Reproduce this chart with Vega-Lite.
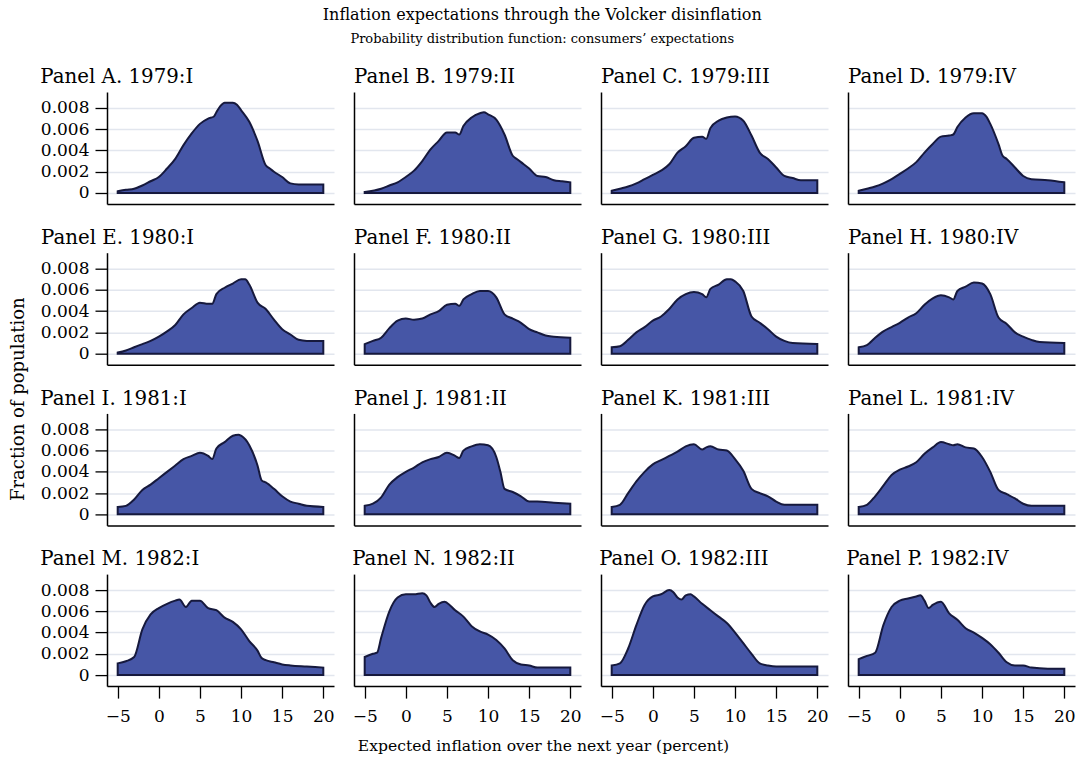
{
"$schema": "https://vega.github.io/schema/vega-lite/v6.json",
"background": "white",
"padding": {"left": 9, "top": 7, "right": 4, "bottom": 5},
"datasets": {"d": [
{"p":"A","x":-5,"y":0.00016},{"p":"A","x":-4,"y":0.0003},{"p":"A","x":-3,"y":0.0004},{"p":"A","x":-2,"y":0.0007},{"p":"A","x":-1,"y":0.0011},{"p":"A","x":0,"y":0.0015},{"p":"A","x":1,"y":0.0023},{"p":"A","x":2,"y":0.0032},{"p":"A","x":3,"y":0.0045},{"p":"A","x":4,"y":0.0056},{"p":"A","x":5,"y":0.0065},{"p":"A","x":6,"y":0.0070},{"p":"A","x":6.7,"y":0.0072},{"p":"A","x":7,"y":0.0076},{"p":"A","x":7.5,"y":0.0082},{"p":"A","x":8,"y":0.0085},{"p":"A","x":9,"y":0.0085},{"p":"A","x":9.5,"y":0.0083},{"p":"A","x":10,"y":0.0078},{"p":"A","x":11,"y":0.0067},{"p":"A","x":12,"y":0.0049},{"p":"A","x":13,"y":0.0026},{"p":"A","x":13.5,"y":0.0023},{"p":"A","x":14,"y":0.0020},{"p":"A","x":15,"y":0.0015},{"p":"A","x":16,"y":0.0009},{"p":"A","x":17,"y":0.0008},{"p":"A","x":18,"y":0.0008},{"p":"A","x":20,"y":0.0008},
{"p":"B","x":-5,"y":0.0001},{"p":"B","x":-3,"y":0.0004},{"p":"B","x":-2,"y":0.0007},{"p":"B","x":-1,"y":0.0010},{"p":"B","x":0,"y":0.0015},{"p":"B","x":1,"y":0.0021},{"p":"B","x":2,"y":0.0030},{"p":"B","x":3,"y":0.0041},{"p":"B","x":4,"y":0.0049},{"p":"B","x":5,"y":0.0057},{"p":"B","x":6,"y":0.0057},{"p":"B","x":6.5,"y":0.0055},{"p":"B","x":7,"y":0.0063},{"p":"B","x":8,"y":0.0071},{"p":"B","x":9,"y":0.0075},{"p":"B","x":9.5,"y":0.0076},{"p":"B","x":10,"y":0.0074},{"p":"B","x":11,"y":0.0069},{"p":"B","x":12,"y":0.0055},{"p":"B","x":13,"y":0.0035},{"p":"B","x":13.5,"y":0.0032},{"p":"B","x":14,"y":0.0029},{"p":"B","x":15,"y":0.0023},{"p":"B","x":16,"y":0.0016},{"p":"B","x":17,"y":0.0015},{"p":"B","x":18,"y":0.0012},{"p":"B","x":19,"y":0.0011},{"p":"B","x":20,"y":0.0010},
{"p":"C","x":-5,"y":0.0002},{"p":"C","x":-4,"y":0.0004},{"p":"C","x":-3,"y":0.0006},{"p":"C","x":-2,"y":0.0009},{"p":"C","x":-1,"y":0.0013},{"p":"C","x":0,"y":0.0017},{"p":"C","x":1,"y":0.0021},{"p":"C","x":2,"y":0.0027},{"p":"C","x":3,"y":0.0038},{"p":"C","x":4,"y":0.0044},{"p":"C","x":5,"y":0.0052},{"p":"C","x":6,"y":0.0053},{"p":"C","x":6.5,"y":0.0051},{"p":"C","x":7,"y":0.0061},{"p":"C","x":8,"y":0.0068},{"p":"C","x":9,"y":0.0071},{"p":"C","x":10,"y":0.0072},{"p":"C","x":11,"y":0.0068},{"p":"C","x":12,"y":0.0054},{"p":"C","x":13,"y":0.0038},{"p":"C","x":14,"y":0.0032},{"p":"C","x":15,"y":0.0024},{"p":"C","x":16,"y":0.0016},{"p":"C","x":17,"y":0.0014},{"p":"C","x":18,"y":0.0012},{"p":"C","x":20,"y":0.0012},
{"p":"D","x":-5,"y":0.0002},{"p":"D","x":-4,"y":0.0004},{"p":"D","x":-3,"y":0.0006},{"p":"D","x":-2,"y":0.0009},{"p":"D","x":-1,"y":0.0013},{"p":"D","x":0,"y":0.0018},{"p":"D","x":1,"y":0.0023},{"p":"D","x":2,"y":0.0029},{"p":"D","x":3,"y":0.0038},{"p":"D","x":4,"y":0.0046},{"p":"D","x":5,"y":0.0053},{"p":"D","x":6,"y":0.0054},{"p":"D","x":6.5,"y":0.0055},{"p":"D","x":7,"y":0.0062},{"p":"D","x":8,"y":0.0071},{"p":"D","x":9,"y":0.0075},{"p":"D","x":10,"y":0.0075},{"p":"D","x":10.5,"y":0.0072},{"p":"D","x":11,"y":0.0065},{"p":"D","x":12,"y":0.0046},{"p":"D","x":12.5,"y":0.0035},{"p":"D","x":13,"y":0.0032},{"p":"D","x":14,"y":0.0024},{"p":"D","x":15,"y":0.0016},{"p":"D","x":16,"y":0.0013},{"p":"D","x":18,"y":0.0012},{"p":"D","x":20,"y":0.0010},
{"p":"E","x":-5,"y":0.0001},{"p":"E","x":-4,"y":0.0003},{"p":"E","x":-3,"y":0.0006},{"p":"E","x":-2,"y":0.0009},{"p":"E","x":-1,"y":0.0012},{"p":"E","x":0,"y":0.0016},{"p":"E","x":1,"y":0.0021},{"p":"E","x":2,"y":0.0027},{"p":"E","x":3,"y":0.0037},{"p":"E","x":4,"y":0.0043},{"p":"E","x":5,"y":0.0048},{"p":"E","x":6,"y":0.0047},{"p":"E","x":6.5,"y":0.0047},{"p":"E","x":7,"y":0.0056},{"p":"E","x":8,"y":0.0062},{"p":"E","x":9,"y":0.0066},{"p":"E","x":10,"y":0.0070},{"p":"E","x":10.5,"y":0.0070},{"p":"E","x":11,"y":0.0065},{"p":"E","x":12,"y":0.0048},{"p":"E","x":13,"y":0.0042},{"p":"E","x":14,"y":0.0032},{"p":"E","x":15,"y":0.0023},{"p":"E","x":16,"y":0.0018},{"p":"E","x":17,"y":0.0013},{"p":"E","x":18,"y":0.0012},{"p":"E","x":20,"y":0.0012},
{"p":"F","x":-5,"y":0.0009},{"p":"F","x":-4,"y":0.0012},{"p":"F","x":-3,"y":0.0015},{"p":"F","x":-2,"y":0.0024},{"p":"F","x":-1,"y":0.0031},{"p":"F","x":0,"y":0.0033},{"p":"F","x":1,"y":0.0032},{"p":"F","x":2,"y":0.0033},{"p":"F","x":3,"y":0.0037},{"p":"F","x":4,"y":0.0040},{"p":"F","x":5,"y":0.0046},{"p":"F","x":6,"y":0.0047},{"p":"F","x":6.5,"y":0.0045},{"p":"F","x":7,"y":0.0051},{"p":"F","x":8,"y":0.0056},{"p":"F","x":9,"y":0.0059},{"p":"F","x":10,"y":0.0059},{"p":"F","x":11,"y":0.0053},{"p":"F","x":12,"y":0.0037},{"p":"F","x":13,"y":0.0033},{"p":"F","x":14,"y":0.0029},{"p":"F","x":15,"y":0.0023},{"p":"F","x":16,"y":0.0020},{"p":"F","x":17,"y":0.0017},{"p":"F","x":18,"y":0.0016},{"p":"F","x":20,"y":0.0015},
{"p":"G","x":-5,"y":0.0006},{"p":"G","x":-4,"y":0.0007},{"p":"G","x":-3,"y":0.0013},{"p":"G","x":-2,"y":0.0020},{"p":"G","x":-1,"y":0.0025},{"p":"G","x":0,"y":0.0031},{"p":"G","x":1,"y":0.0035},{"p":"G","x":2,"y":0.0042},{"p":"G","x":3,"y":0.0051},{"p":"G","x":4,"y":0.0056},{"p":"G","x":5,"y":0.0058},{"p":"G","x":6,"y":0.0056},{"p":"G","x":6.5,"y":0.0053},{"p":"G","x":7,"y":0.0061},{"p":"G","x":8,"y":0.0065},{"p":"G","x":9,"y":0.0070},{"p":"G","x":9.5,"y":0.0070},{"p":"G","x":10,"y":0.0068},{"p":"G","x":11,"y":0.0059},{"p":"G","x":12,"y":0.0035},{"p":"G","x":13,"y":0.0029},{"p":"G","x":14,"y":0.0023},{"p":"G","x":15,"y":0.0016},{"p":"G","x":16,"y":0.0012},{"p":"G","x":17,"y":0.0010},{"p":"G","x":20,"y":0.0009},
{"p":"H","x":-5,"y":0.0006},{"p":"H","x":-4,"y":0.0008},{"p":"H","x":-3,"y":0.0015},{"p":"H","x":-2,"y":0.0021},{"p":"H","x":-1,"y":0.0025},{"p":"H","x":0,"y":0.0029},{"p":"H","x":1,"y":0.0034},{"p":"H","x":2,"y":0.0038},{"p":"H","x":3,"y":0.0046},{"p":"H","x":4,"y":0.0052},{"p":"H","x":5,"y":0.0055},{"p":"H","x":6,"y":0.0053},{"p":"H","x":6.5,"y":0.0051},{"p":"H","x":7,"y":0.0059},{"p":"H","x":8,"y":0.0063},{"p":"H","x":9,"y":0.0067},{"p":"H","x":10,"y":0.0066},{"p":"H","x":11,"y":0.0056},{"p":"H","x":12,"y":0.0034},{"p":"H","x":13,"y":0.0028},{"p":"H","x":14,"y":0.0020},{"p":"H","x":15,"y":0.0016},{"p":"H","x":16,"y":0.0013},{"p":"H","x":17,"y":0.0011},{"p":"H","x":20,"y":0.0010},
{"p":"I","x":-5,"y":0.0007},{"p":"I","x":-4,"y":0.0008},{"p":"I","x":-3,"y":0.0014},{"p":"I","x":-2,"y":0.0023},{"p":"I","x":-1,"y":0.0028},{"p":"I","x":0,"y":0.0034},{"p":"I","x":1,"y":0.0040},{"p":"I","x":2,"y":0.0046},{"p":"I","x":3,"y":0.0052},{"p":"I","x":4,"y":0.0055},{"p":"I","x":5,"y":0.0058},{"p":"I","x":6,"y":0.0055},{"p":"I","x":6.5,"y":0.0052},{"p":"I","x":7,"y":0.0062},{"p":"I","x":8,"y":0.0068},{"p":"I","x":9,"y":0.0074},{"p":"I","x":9.7,"y":0.0075},{"p":"I","x":10,"y":0.0074},{"p":"I","x":11,"y":0.0065},{"p":"I","x":12,"y":0.0046},{"p":"I","x":12.5,"y":0.0032},{"p":"I","x":13,"y":0.0030},{"p":"I","x":14,"y":0.0024},{"p":"I","x":15,"y":0.0017},{"p":"I","x":16,"y":0.0012},{"p":"I","x":17,"y":0.0010},{"p":"I","x":18,"y":0.0008},{"p":"I","x":20,"y":0.0007},
{"p":"J","x":-5,"y":0.0008},{"p":"J","x":-4,"y":0.0010},{"p":"J","x":-3,"y":0.0016},{"p":"J","x":-2,"y":0.0028},{"p":"J","x":-1,"y":0.0035},{"p":"J","x":0,"y":0.0040},{"p":"J","x":1,"y":0.0044},{"p":"J","x":2,"y":0.0049},{"p":"J","x":3,"y":0.0052},{"p":"J","x":4,"y":0.0054},{"p":"J","x":5,"y":0.0058},{"p":"J","x":6,"y":0.0055},{"p":"J","x":6.5,"y":0.0053},{"p":"J","x":7,"y":0.0060},{"p":"J","x":8,"y":0.0064},{"p":"J","x":9,"y":0.0066},{"p":"J","x":10,"y":0.0065},{"p":"J","x":11,"y":0.0054},{"p":"J","x":11.5,"y":0.0040},{"p":"J","x":12,"y":0.0024},{"p":"J","x":13,"y":0.0021},{"p":"J","x":14,"y":0.0017},{"p":"J","x":15,"y":0.0012},{"p":"J","x":16,"y":0.0012},{"p":"J","x":18,"y":0.0011},{"p":"J","x":20,"y":0.0010},
{"p":"K","x":-5,"y":0.0007},{"p":"K","x":-4,"y":0.0009},{"p":"K","x":-3,"y":0.0020},{"p":"K","x":-2,"y":0.0031},{"p":"K","x":-1,"y":0.0040},{"p":"K","x":0,"y":0.0047},{"p":"K","x":1,"y":0.0051},{"p":"K","x":2,"y":0.0055},{"p":"K","x":3,"y":0.0059},{"p":"K","x":4,"y":0.0064},{"p":"K","x":5,"y":0.0066},{"p":"K","x":6,"y":0.0061},{"p":"K","x":6.5,"y":0.0063},{"p":"K","x":7,"y":0.0064},{"p":"K","x":8,"y":0.0061},{"p":"K","x":9,"y":0.0060},{"p":"K","x":10,"y":0.0052},{"p":"K","x":11,"y":0.0041},{"p":"K","x":12,"y":0.0024},{"p":"K","x":13,"y":0.0020},{"p":"K","x":14,"y":0.0017},{"p":"K","x":15,"y":0.0012},{"p":"K","x":16,"y":0.0009},{"p":"K","x":18,"y":0.0009},{"p":"K","x":20,"y":0.0009},
{"p":"L","x":-5,"y":0.0007},{"p":"L","x":-4,"y":0.0009},{"p":"L","x":-3,"y":0.0017},{"p":"L","x":-2,"y":0.0027},{"p":"L","x":-1,"y":0.0037},{"p":"L","x":0,"y":0.0042},{"p":"L","x":1,"y":0.0045},{"p":"L","x":2,"y":0.0049},{"p":"L","x":3,"y":0.0057},{"p":"L","x":4,"y":0.0063},{"p":"L","x":5,"y":0.0068},{"p":"L","x":6,"y":0.0066},{"p":"L","x":6.5,"y":0.0065},{"p":"L","x":7,"y":0.0066},{"p":"L","x":8,"y":0.0063},{"p":"L","x":9,"y":0.0062},{"p":"L","x":10,"y":0.0054},{"p":"L","x":11,"y":0.0040},{"p":"L","x":12,"y":0.0023},{"p":"L","x":13,"y":0.0019},{"p":"L","x":14,"y":0.0015},{"p":"L","x":15,"y":0.0010},{"p":"L","x":16,"y":0.0008},{"p":"L","x":18,"y":0.0008},{"p":"L","x":20,"y":0.0008},
{"p":"M","x":-5,"y":0.0011},{"p":"M","x":-4,"y":0.0013},{"p":"M","x":-3,"y":0.0017},{"p":"M","x":-2,"y":0.0043},{"p":"M","x":-1,"y":0.0057},{"p":"M","x":0,"y":0.0063},{"p":"M","x":1,"y":0.0067},{"p":"M","x":2,"y":0.0070},{"p":"M","x":2.5,"y":0.0071},{"p":"M","x":3.3,"y":0.0064},{"p":"M","x":4,"y":0.0070},{"p":"M","x":5,"y":0.0070},{"p":"M","x":6,"y":0.0063},{"p":"M","x":7,"y":0.0061},{"p":"M","x":8,"y":0.0054},{"p":"M","x":9,"y":0.0050},{"p":"M","x":10,"y":0.0043},{"p":"M","x":11,"y":0.0032},{"p":"M","x":12,"y":0.0023},{"p":"M","x":12.5,"y":0.0016},{"p":"M","x":13,"y":0.0014},{"p":"M","x":14,"y":0.0012},{"p":"M","x":15,"y":0.0010},{"p":"M","x":16,"y":0.0009},{"p":"M","x":18,"y":0.0008},{"p":"M","x":20,"y":0.0007},
{"p":"N","x":-5,"y":0.0017},{"p":"N","x":-4,"y":0.0020},{"p":"N","x":-3.5,"y":0.0021},{"p":"N","x":-3,"y":0.0035},{"p":"N","x":-2,"y":0.0060},{"p":"N","x":-1,"y":0.0073},{"p":"N","x":0,"y":0.0076},{"p":"N","x":1,"y":0.0076},{"p":"N","x":2,"y":0.0077},{"p":"N","x":2.5,"y":0.0075},{"p":"N","x":3,"y":0.0068},{"p":"N","x":3.5,"y":0.0064},{"p":"N","x":4,"y":0.0067},{"p":"N","x":4.7,"y":0.0069},{"p":"N","x":5,"y":0.0068},{"p":"N","x":6,"y":0.0061},{"p":"N","x":7,"y":0.0055},{"p":"N","x":8,"y":0.0046},{"p":"N","x":9,"y":0.0041},{"p":"N","x":10,"y":0.0038},{"p":"N","x":11,"y":0.0033},{"p":"N","x":12,"y":0.0025},{"p":"N","x":13,"y":0.0014},{"p":"N","x":14,"y":0.0010},{"p":"N","x":15,"y":0.0009},{"p":"N","x":16,"y":0.0007},{"p":"N","x":20,"y":0.0007},
{"p":"O","x":-5,"y":0.0009},{"p":"O","x":-4,"y":0.0011},{"p":"O","x":-3,"y":0.0025},{"p":"O","x":-2,"y":0.0047},{"p":"O","x":-1,"y":0.0066},{"p":"O","x":0,"y":0.0074},{"p":"O","x":1,"y":0.0076},{"p":"O","x":2,"y":0.0080},{"p":"O","x":2.5,"y":0.0078},{"p":"O","x":3,"y":0.0073},{"p":"O","x":3.5,"y":0.0071},{"p":"O","x":4,"y":0.0075},{"p":"O","x":4.6,"y":0.0076},{"p":"O","x":5,"y":0.0074},{"p":"O","x":6,"y":0.0067},{"p":"O","x":7,"y":0.0061},{"p":"O","x":8,"y":0.0055},{"p":"O","x":9,"y":0.0049},{"p":"O","x":10,"y":0.0040},{"p":"O","x":11,"y":0.0030},{"p":"O","x":12,"y":0.0020},{"p":"O","x":13,"y":0.0011},{"p":"O","x":14,"y":0.0009},{"p":"O","x":15,"y":0.0008},{"p":"O","x":20,"y":0.0008},
{"p":"P","x":-5,"y":0.0015},{"p":"P","x":-4,"y":0.0018},{"p":"P","x":-3,"y":0.0021},{"p":"P","x":-2,"y":0.0047},{"p":"P","x":-1,"y":0.0064},{"p":"P","x":0,"y":0.0070},{"p":"P","x":1,"y":0.0072},{"p":"P","x":2,"y":0.0074},{"p":"P","x":2.5,"y":0.0075},{"p":"P","x":3,"y":0.0070},{"p":"P","x":3.5,"y":0.0063},{"p":"P","x":4,"y":0.0066},{"p":"P","x":5,"y":0.0069},{"p":"P","x":6,"y":0.0058},{"p":"P","x":7,"y":0.0052},{"p":"P","x":8,"y":0.0044},{"p":"P","x":9,"y":0.0040},{"p":"P","x":10,"y":0.0035},{"p":"P","x":11,"y":0.0029},{"p":"P","x":12,"y":0.0021},{"p":"P","x":13,"y":0.0012},{"p":"P","x":14,"y":0.0009},{"p":"P","x":15,"y":0.0009},{"p":"P","x":16,"y":0.0007},{"p":"P","x":18,"y":0.0006},{"p":"P","x":20,"y":0.0006}
]},
"title": {"text": "Inflation expectations through the Volcker disinflation", "subtitle": "Probability distribution function: consumers’ expectations", "anchor": "middle", "frame": "bounds", "fontSize": 16, "subtitleFontSize": 13, "subtitleFont": "DejaVu Serif", "subtitleColor": "#000", "subtitlePadding": 10, "offset": 21, "baseline": "top"},
"columns": 4,
"bounds": "flush",
"spacing": {"row": 48.7, "column": 20},
"concat": [
{"title": "Panel A. 1979:I", "width": 227, "height": 112, "data": {"name": "d"}, "transform": [{"filter": "datum.p == 'A'"}], "mark": {"type": "area"}, "encoding": {"x": {"field": "x", "type": "quantitative", "scale": {"domain": [-6.3, 21.3], "nice": false, "zero": false}, "axis": {"title": null, "values": [-5, 0, 5, 10, 15, 20], "ticks": false, "labels": false, "grid": false}}, "y": {"field": "y", "type": "quantitative", "scale": {"domain": [-0.00104, 0.0095], "nice": false}, "axis": {"title": null, "values": [0, 0.002, 0.004, 0.006, 0.008], "labelExpr": "datum.value == 0 ? '0' : format(datum.value, '.3f')"}}, "y2": {"datum": 0}}},
{"title": "Panel B. 1979:II", "width": 227, "height": 112, "data": {"name": "d"}, "transform": [{"filter": "datum.p == 'B'"}], "mark": {"type": "area"}, "encoding": {"x": {"field": "x", "type": "quantitative", "scale": {"domain": [-6.3, 21.3], "nice": false, "zero": false}, "axis": {"title": null, "values": [-5, 0, 5, 10, 15, 20], "ticks": false, "labels": false, "grid": false}}, "y": {"field": "y", "type": "quantitative", "scale": {"domain": [-0.00104, 0.0095], "nice": false}, "axis": {"title": null, "values": [0, 0.002, 0.004, 0.006, 0.008], "ticks": false, "labels": false}}, "y2": {"datum": 0}}},
{"title": "Panel C. 1979:III", "width": 227, "height": 112, "data": {"name": "d"}, "transform": [{"filter": "datum.p == 'C'"}], "mark": {"type": "area"}, "encoding": {"x": {"field": "x", "type": "quantitative", "scale": {"domain": [-6.3, 21.3], "nice": false, "zero": false}, "axis": {"title": null, "values": [-5, 0, 5, 10, 15, 20], "ticks": false, "labels": false, "grid": false}}, "y": {"field": "y", "type": "quantitative", "scale": {"domain": [-0.00104, 0.0095], "nice": false}, "axis": {"title": null, "values": [0, 0.002, 0.004, 0.006, 0.008], "ticks": false, "labels": false}}, "y2": {"datum": 0}}},
{"title": "Panel D. 1979:IV", "width": 227, "height": 112, "data": {"name": "d"}, "transform": [{"filter": "datum.p == 'D'"}], "mark": {"type": "area"}, "encoding": {"x": {"field": "x", "type": "quantitative", "scale": {"domain": [-6.3, 21.3], "nice": false, "zero": false}, "axis": {"title": null, "values": [-5, 0, 5, 10, 15, 20], "ticks": false, "labels": false, "grid": false}}, "y": {"field": "y", "type": "quantitative", "scale": {"domain": [-0.00104, 0.0095], "nice": false}, "axis": {"title": null, "values": [0, 0.002, 0.004, 0.006, 0.008], "ticks": false, "labels": false}}, "y2": {"datum": 0}}},
{"title": {"text": "Panel E. 1980:I", "frame": "group", "dx": -66}, "width": 227, "height": 112, "data": {"name": "d"}, "transform": [{"filter": "datum.p == 'E'"}], "mark": {"type": "area"}, "encoding": {"x": {"field": "x", "type": "quantitative", "scale": {"domain": [-6.3, 21.3], "nice": false, "zero": false}, "axis": {"title": null, "values": [-5, 0, 5, 10, 15, 20], "ticks": false, "labels": false, "grid": false}}, "y": {"field": "y", "type": "quantitative", "scale": {"domain": [-0.00104, 0.0095], "nice": false}, "axis": {"title": "Fraction of population", "titleY": 146, "titlePadding": 13, "titleFont": "DejaVu Serif", "titleFontSize": 18, "titleFontWeight": "normal", "titleColor": "#000", "values": [0, 0.002, 0.004, 0.006, 0.008], "labelExpr": "datum.value == 0 ? '0' : format(datum.value, '.3f')"}}, "y2": {"datum": 0}}},
{"title": "Panel F. 1980:II", "width": 227, "height": 112, "data": {"name": "d"}, "transform": [{"filter": "datum.p == 'F'"}], "mark": {"type": "area"}, "encoding": {"x": {"field": "x", "type": "quantitative", "scale": {"domain": [-6.3, 21.3], "nice": false, "zero": false}, "axis": {"title": null, "values": [-5, 0, 5, 10, 15, 20], "ticks": false, "labels": false, "grid": false}}, "y": {"field": "y", "type": "quantitative", "scale": {"domain": [-0.00104, 0.0095], "nice": false}, "axis": {"title": null, "values": [0, 0.002, 0.004, 0.006, 0.008], "ticks": false, "labels": false}}, "y2": {"datum": 0}}},
{"title": "Panel G. 1980:III", "width": 227, "height": 112, "data": {"name": "d"}, "transform": [{"filter": "datum.p == 'G'"}], "mark": {"type": "area"}, "encoding": {"x": {"field": "x", "type": "quantitative", "scale": {"domain": [-6.3, 21.3], "nice": false, "zero": false}, "axis": {"title": null, "values": [-5, 0, 5, 10, 15, 20], "ticks": false, "labels": false, "grid": false}}, "y": {"field": "y", "type": "quantitative", "scale": {"domain": [-0.00104, 0.0095], "nice": false}, "axis": {"title": null, "values": [0, 0.002, 0.004, 0.006, 0.008], "ticks": false, "labels": false}}, "y2": {"datum": 0}}},
{"title": "Panel H. 1980:IV", "width": 227, "height": 112, "data": {"name": "d"}, "transform": [{"filter": "datum.p == 'H'"}], "mark": {"type": "area"}, "encoding": {"x": {"field": "x", "type": "quantitative", "scale": {"domain": [-6.3, 21.3], "nice": false, "zero": false}, "axis": {"title": null, "values": [-5, 0, 5, 10, 15, 20], "ticks": false, "labels": false, "grid": false}}, "y": {"field": "y", "type": "quantitative", "scale": {"domain": [-0.00104, 0.0095], "nice": false}, "axis": {"title": null, "values": [0, 0.002, 0.004, 0.006, 0.008], "ticks": false, "labels": false}}, "y2": {"datum": 0}}},
{"title": "Panel I. 1981:I", "width": 227, "height": 112, "data": {"name": "d"}, "transform": [{"filter": "datum.p == 'I'"}], "mark": {"type": "area"}, "encoding": {"x": {"field": "x", "type": "quantitative", "scale": {"domain": [-6.3, 21.3], "nice": false, "zero": false}, "axis": {"title": null, "values": [-5, 0, 5, 10, 15, 20], "ticks": false, "labels": false, "grid": false}}, "y": {"field": "y", "type": "quantitative", "scale": {"domain": [-0.00104, 0.0095], "nice": false}, "axis": {"title": null, "values": [0, 0.002, 0.004, 0.006, 0.008], "labelExpr": "datum.value == 0 ? '0' : format(datum.value, '.3f')"}}, "y2": {"datum": 0}}},
{"title": "Panel J. 1981:II", "width": 227, "height": 112, "data": {"name": "d"}, "transform": [{"filter": "datum.p == 'J'"}], "mark": {"type": "area"}, "encoding": {"x": {"field": "x", "type": "quantitative", "scale": {"domain": [-6.3, 21.3], "nice": false, "zero": false}, "axis": {"title": null, "values": [-5, 0, 5, 10, 15, 20], "ticks": false, "labels": false, "grid": false}}, "y": {"field": "y", "type": "quantitative", "scale": {"domain": [-0.00104, 0.0095], "nice": false}, "axis": {"title": null, "values": [0, 0.002, 0.004, 0.006, 0.008], "ticks": false, "labels": false}}, "y2": {"datum": 0}}},
{"title": "Panel K. 1981:III", "width": 227, "height": 112, "data": {"name": "d"}, "transform": [{"filter": "datum.p == 'K'"}], "mark": {"type": "area"}, "encoding": {"x": {"field": "x", "type": "quantitative", "scale": {"domain": [-6.3, 21.3], "nice": false, "zero": false}, "axis": {"title": null, "values": [-5, 0, 5, 10, 15, 20], "ticks": false, "labels": false, "grid": false}}, "y": {"field": "y", "type": "quantitative", "scale": {"domain": [-0.00104, 0.0095], "nice": false}, "axis": {"title": null, "values": [0, 0.002, 0.004, 0.006, 0.008], "ticks": false, "labels": false}}, "y2": {"datum": 0}}},
{"title": "Panel L. 1981:IV", "width": 227, "height": 112, "data": {"name": "d"}, "transform": [{"filter": "datum.p == 'L'"}], "mark": {"type": "area"}, "encoding": {"x": {"field": "x", "type": "quantitative", "scale": {"domain": [-6.3, 21.3], "nice": false, "zero": false}, "axis": {"title": null, "values": [-5, 0, 5, 10, 15, 20], "ticks": false, "labels": false, "grid": false}}, "y": {"field": "y", "type": "quantitative", "scale": {"domain": [-0.00104, 0.0095], "nice": false}, "axis": {"title": null, "values": [0, 0.002, 0.004, 0.006, 0.008], "ticks": false, "labels": false}}, "y2": {"datum": 0}}},
{"title": "Panel M. 1982:I", "width": 227, "height": 112, "data": {"name": "d"}, "transform": [{"filter": "datum.p == 'M'"}], "mark": {"type": "area"}, "encoding": {"x": {"field": "x", "type": "quantitative", "scale": {"domain": [-6.3, 21.3], "nice": false, "zero": false}, "axis": {"title": "Expected inflation over the next year (percent)", "titleX": 436, "titlePadding": 14, "titleFont": "DejaVu Serif", "titleFontSize": 15.6, "titleFontWeight": "normal", "titleColor": "#000", "values": [-5, 0, 5, 10, 15, 20], "grid": false}}, "y": {"field": "y", "type": "quantitative", "scale": {"domain": [-0.00104, 0.0095], "nice": false}, "axis": {"title": null, "values": [0, 0.002, 0.004, 0.006, 0.008], "labelExpr": "datum.value == 0 ? '0' : format(datum.value, '.3f')"}}, "y2": {"datum": 0}}},
{"title": "Panel N. 1982:II", "width": 227, "height": 112, "data": {"name": "d"}, "transform": [{"filter": "datum.p == 'N'"}], "mark": {"type": "area"}, "encoding": {"x": {"field": "x", "type": "quantitative", "scale": {"domain": [-6.3, 21.3], "nice": false, "zero": false}, "axis": {"title": null, "values": [-5, 0, 5, 10, 15, 20], "grid": false}}, "y": {"field": "y", "type": "quantitative", "scale": {"domain": [-0.00104, 0.0095], "nice": false}, "axis": {"title": null, "values": [0, 0.002, 0.004, 0.006, 0.008], "ticks": false, "labels": false}}, "y2": {"datum": 0}}},
{"title": "Panel O. 1982:III", "width": 227, "height": 112, "data": {"name": "d"}, "transform": [{"filter": "datum.p == 'O'"}], "mark": {"type": "area"}, "encoding": {"x": {"field": "x", "type": "quantitative", "scale": {"domain": [-6.3, 21.3], "nice": false, "zero": false}, "axis": {"title": null, "values": [-5, 0, 5, 10, 15, 20], "grid": false}}, "y": {"field": "y", "type": "quantitative", "scale": {"domain": [-0.00104, 0.0095], "nice": false}, "axis": {"title": null, "values": [0, 0.002, 0.004, 0.006, 0.008], "ticks": false, "labels": false}}, "y2": {"datum": 0}}},
{"title": "Panel P. 1982:IV", "width": 227, "height": 112, "data": {"name": "d"}, "transform": [{"filter": "datum.p == 'P'"}], "mark": {"type": "area"}, "encoding": {"x": {"field": "x", "type": "quantitative", "scale": {"domain": [-6.3, 21.3], "nice": false, "zero": false}, "axis": {"title": null, "values": [-5, 0, 5, 10, 15, 20], "grid": false}}, "y": {"field": "y", "type": "quantitative", "scale": {"domain": [-0.00104, 0.0095], "nice": false}, "axis": {"title": null, "values": [0, 0.002, 0.004, 0.006, 0.008], "ticks": false, "labels": false}}, "y2": {"datum": 0}}}
],
"config": {
"font": "DejaVu Serif",
"view": {"stroke": null},
"area": {"fill": "#4656a6", "fillOpacity": 1, "stroke": "#16193d", "strokeWidth": 2, "interpolate": "monotone"},
"title": {"font": "DejaVu Serif", "fontWeight": "normal", "color": "#000", "fontSize": 19.8, "anchor": "start", "frame": "bounds", "offset": 5, "baseline": "alphabetic"},
"axis": {"domainColor": "#000", "domainWidth": 1.5, "tickColor": "#000", "tickWidth": 1.3, "tickSize": 12, "labelFont": "DejaVu Serif", "labelFontSize": 17, "labelColor": "#000", "labelPadding": 6, "labelFlush": false, "labelOverlap": false, "gridColor": "#e2e6ee", "gridWidth": 1.5},
"axisX": {"labelPadding": 10}
}
}
